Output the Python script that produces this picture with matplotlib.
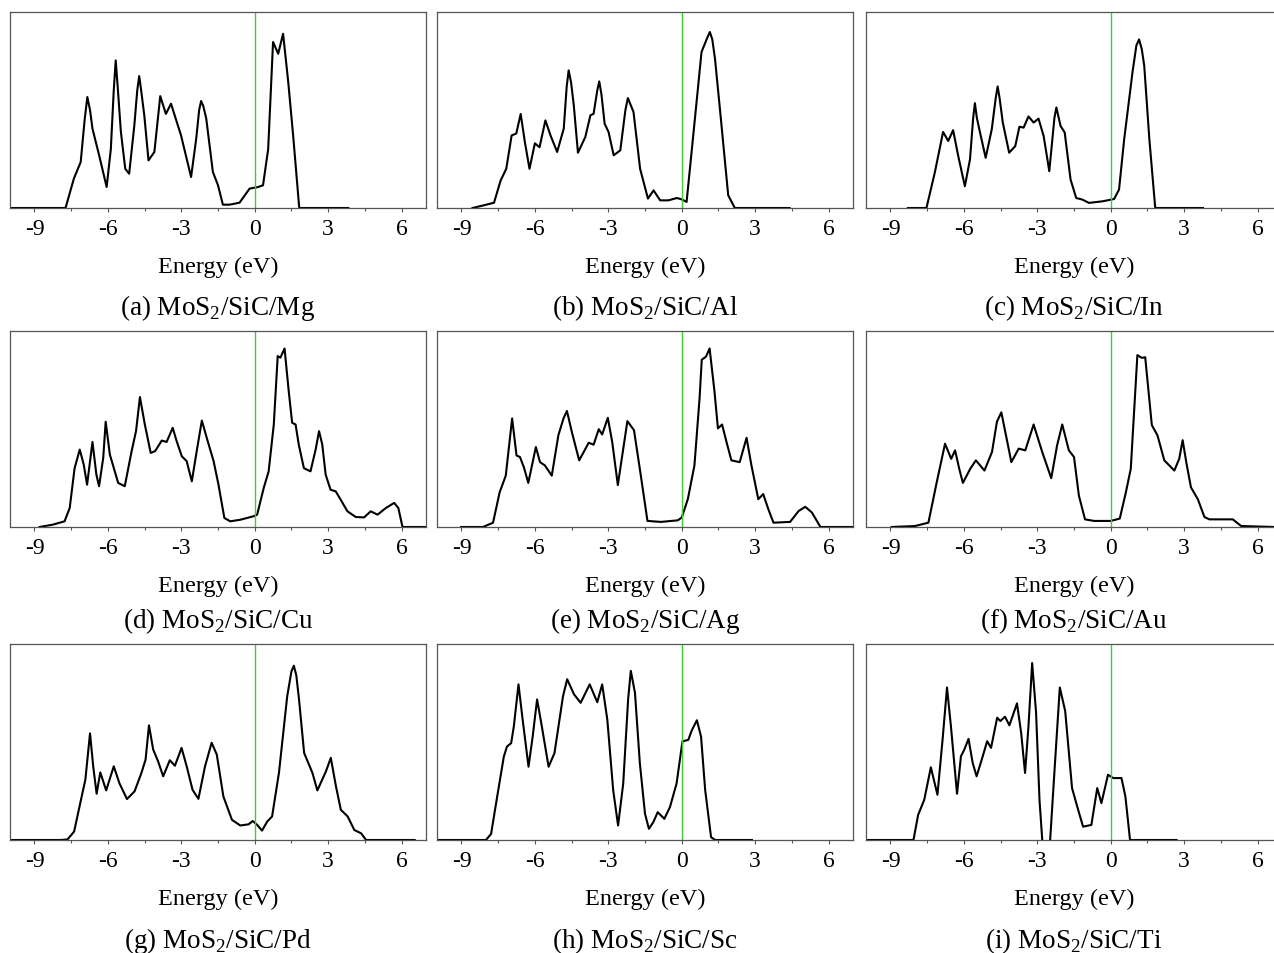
import matplotlib
matplotlib.use("Agg")
import matplotlib.pyplot as plt

plt.rcParams["font.family"] = ["Liberation Serif", "DejaVu Serif"]
plt.rcParams["mathtext.fontset"] = "custom"
plt.rcParams["mathtext.rm"] = "Liberation Serif"
plt.rcParams["axes.unicode_minus"] = False

# digitised total DOS (energy in eV, DOS in arbitrary units)
energy_mg = [-10.0, -7.73, -7.39, -7.11, -6.95, -6.84, -6.73, -6.63, -6.36, -6.05, -5.88, -5.76, -5.68, -5.60, -5.47,
             -5.29, -5.13, -4.92, -4.80, -4.72, -4.64, -4.51, -4.34, -4.10, -3.86, -3.63, -3.42, -3.01, -2.60, -2.39,
             -2.27, -2.19, -2.10, -1.98, -1.71, -1.50, -1.30, -1.03, -0.62, -0.21, 0.14, 0.34, 0.55, 0.75, 0.96,
             1.16, 1.37, 1.57, 1.82, 3.83]
dos_mg = [0.0, 0.0, 0.15, 0.235, 0.45, 0.566, 0.50, 0.405, 0.27, 0.107, 0.30, 0.60, 0.753, 0.62, 0.39,
          0.20, 0.175, 0.42, 0.60, 0.673, 0.60, 0.47, 0.243, 0.286, 0.571, 0.48, 0.532, 0.37, 0.158, 0.354,
          0.50, 0.546, 0.52, 0.456, 0.184, 0.116, 0.017, 0.017, 0.027, 0.099, 0.107, 0.116, 0.30, 0.847, 0.787,
          0.889, 0.643, 0.371, 0.0, 0.0]

energy_al = [-8.55, -8.08, -7.67, -7.40, -7.17, -6.95, -6.76, -6.58, -6.41, -6.22, -6.00, -5.81, -5.57, -5.36, -5.09,
             -4.82, -4.70, -4.62, -4.52, -4.41, -4.24, -3.94, -3.73, -3.60, -3.45, -3.37, -3.28, -3.15, -2.99, -2.78,
             -2.51, -2.30, -2.20, -1.97, -1.70, -1.38, -1.15, -0.88, -0.54, -0.20, 0.0, 0.20, 0.54, 0.81, 1.05,
             1.15, 1.25, 1.36, 1.60, 1.90, 2.17, 4.41]
dos_al = [0.0, 0.014, 0.027, 0.14, 0.20, 0.37, 0.38, 0.48, 0.337, 0.20, 0.33, 0.31, 0.447, 0.37, 0.286,
          0.405, 0.62, 0.702, 0.64, 0.524, 0.282, 0.362, 0.473, 0.481, 0.60, 0.646, 0.58, 0.43, 0.388, 0.269,
          0.294, 0.50, 0.561, 0.49, 0.20, 0.048, 0.09, 0.039, 0.039, 0.051, 0.044, 0.031, 0.456, 0.796, 0.87,
          0.898, 0.86, 0.762, 0.456, 0.065, 0.0, 0.0]

energy_in = [-8.29, -7.53, -7.19, -6.85, -6.64, -6.44, -6.23, -5.96, -5.75, -5.62, -5.55, -5.47, -5.34, -5.11, -4.86,
             -4.70, -4.62, -4.54, -4.41, -4.15, -3.90, -3.73, -3.56, -3.36, -3.15, -2.95, -2.74, -2.51, -2.30, -2.22,
             -2.05, -1.88, -1.64, -1.41, -1.16, -0.89, -0.34, 0.14, 0.34, 0.55, 0.89, 1.05, 1.16, 1.27, 1.37,
             1.58, 1.82, 3.77]
dos_in = [0.0, 0.0, 0.18, 0.388, 0.342, 0.397, 0.265, 0.111, 0.248, 0.46, 0.535, 0.46, 0.385, 0.256, 0.402,
          0.56, 0.62, 0.56, 0.436, 0.282, 0.316, 0.415, 0.41, 0.467, 0.436, 0.456, 0.367, 0.188, 0.46, 0.513,
          0.419, 0.385, 0.145, 0.051, 0.043, 0.026, 0.034, 0.046, 0.094, 0.35, 0.692, 0.83, 0.86, 0.81, 0.726,
          0.35, 0.0, 0.0]

energy_cu = [-8.79, -8.25, -7.77, -7.56, -7.36, -7.15, -6.99, -6.85, -6.63, -6.47, -6.36, -6.19, -6.09, -5.92, -5.58,
             -5.31, -5.03, -4.85, -4.69, -4.49, -4.25, -4.07, -3.80, -3.60, -3.35, -3.19, -2.98, -2.78, -2.57, -2.37,
             -2.16, -1.96, -1.68, -1.48, -1.24, -1.00, -0.59, -0.04, 0.10, 0.37, 0.57, 0.78, 0.94, 1.05, 1.22,
             1.39, 1.53, 1.67, 1.80, 2.01, 2.28, 2.49, 2.63, 2.76, 2.90, 3.10, 3.31, 3.51, 3.79, 4.13,
             4.47, 4.74, 5.02, 5.36, 5.70, 5.87, 6.04, 7.0]
dos_cu = [0.0, 0.012, 0.029, 0.097, 0.30, 0.395, 0.32, 0.216, 0.434, 0.267, 0.208, 0.353, 0.537, 0.37, 0.225,
          0.208, 0.387, 0.489, 0.663, 0.523, 0.378, 0.387, 0.441, 0.434, 0.506, 0.438, 0.361, 0.336, 0.233, 0.387,
          0.543, 0.455, 0.336, 0.216, 0.046, 0.029, 0.037, 0.055, 0.063, 0.20, 0.284, 0.523, 0.872, 0.864, 0.911,
          0.693, 0.532, 0.523, 0.421, 0.30, 0.284, 0.395, 0.489, 0.421, 0.267, 0.19, 0.182, 0.14, 0.08, 0.051,
          0.049, 0.08, 0.063, 0.097, 0.123, 0.097, 0.0, 0.0]

energy_ag = [-9.02, -8.12, -7.71, -7.44, -7.19, -6.93, -6.75, -6.61, -6.45, -6.27, -6.09, -5.96, -5.79, -5.59, -5.31,
             -5.04, -4.83, -4.69, -4.49, -4.19, -3.80, -3.60, -3.39, -3.25, -3.02, -2.84, -2.61, -2.43, -2.22, -1.95,
             -1.67, -1.40, -0.85, -0.16, 0.0, 0.25, 0.52, 0.73, 0.82, 0.93, 1.00, 1.14, 1.34, 1.48, 1.65,
             1.83, 2.03, 2.37, 2.65, 2.85, 3.13, 3.33, 3.54, 3.75, 4.43, 4.78, 5.05, 5.32, 5.67, 6.97]
dos_ag = [0.0, 0.0, 0.022, 0.177, 0.262, 0.554, 0.365, 0.357, 0.305, 0.225, 0.331, 0.408, 0.331, 0.314, 0.262,
          0.468, 0.554, 0.592, 0.485, 0.34, 0.43, 0.42, 0.499, 0.472, 0.557, 0.434, 0.214, 0.365, 0.54, 0.494,
          0.262, 0.031, 0.026, 0.034, 0.048, 0.142, 0.314, 0.657, 0.854, 0.863, 0.871, 0.911, 0.691, 0.503, 0.523,
          0.434, 0.34, 0.331, 0.455, 0.314, 0.142, 0.168, 0.091, 0.022, 0.026, 0.082, 0.103, 0.074, 0.0, 0.0]

energy_au = [-8.96, -8.0, -7.45, -7.11, -6.77, -6.52, -6.36, -6.19, -6.04, -5.74, -5.51, -5.16, -4.85, -4.65, -4.47,
             -4.28, -4.06, -3.76, -3.49, -3.15, -2.80, -2.43, -2.19, -1.98, -1.71, -1.50, -1.30, -1.05, -0.68, 0.0,
             0.37, 0.62, 0.82, 1.09, 1.27, 1.41, 1.68, 1.91, 2.19, 2.60, 2.80, 2.94, 3.10, 3.28, 3.56,
             3.83, 4.03, 4.44, 4.99, 5.33, 6.7]
dos_au = [0.0, 0.005, 0.022, 0.228, 0.425, 0.348, 0.391, 0.297, 0.225, 0.297, 0.34, 0.288, 0.383, 0.537, 0.585,
          0.468, 0.331, 0.40, 0.391, 0.523, 0.383, 0.249, 0.417, 0.523, 0.391, 0.357, 0.16, 0.039, 0.031, 0.031,
          0.043, 0.177, 0.297, 0.877, 0.863, 0.866, 0.52, 0.468, 0.34, 0.288, 0.348, 0.443, 0.322, 0.202, 0.142,
          0.051, 0.039, 0.039, 0.039, 0.005, 0.0]

energy_pd = [-10.08, -7.93, -7.65, -7.38, -7.10, -6.92, -6.73, -6.60, -6.46, -6.31, -6.07, -5.76, -5.53, -5.22, -4.91,
             -4.63, -4.46, -4.32, -4.15, -3.95, -3.74, -3.47, -3.26, -2.99, -2.78, -2.54, -2.30, -2.03, -1.76, -1.55,
             -1.28, -0.93, -0.59, -0.25, -0.08, 0.10, 0.30, 0.51, 0.71, 0.99, 1.33, 1.50, 1.60, 1.70, 1.81,
             2.02, 2.36, 2.56, 2.91, 3.11, 3.32, 3.52, 3.80, 4.07, 4.35, 4.55, 6.54]
dos_pd = [0.0, 0.0, 0.003, 0.043, 0.205, 0.308, 0.544, 0.376, 0.236, 0.345, 0.253, 0.376, 0.29, 0.209, 0.248,
          0.342, 0.41, 0.585, 0.462, 0.402, 0.325, 0.407, 0.379, 0.47, 0.376, 0.256, 0.21, 0.376, 0.496, 0.436,
          0.222, 0.103, 0.074, 0.08, 0.097, 0.077, 0.048, 0.094, 0.12, 0.342, 0.735, 0.86, 0.889, 0.84, 0.718,
          0.444, 0.342, 0.253, 0.35, 0.419, 0.274, 0.154, 0.12, 0.051, 0.034, 0.0, 0.0]

energy_sc = [-10.0, -8.0, -7.79, -7.52, -7.27, -7.14, -6.97, -6.86, -6.67, -6.50, -6.26, -6.09, -5.91, -5.74, -5.44,
             -5.20, -4.85, -4.68, -4.40, -4.13, -3.76, -3.45, -3.25, -3.04, -2.80, -2.60, -2.39, -2.19, -2.08, -1.91,
             -1.71, -1.50, -1.34, -1.16, -0.98, -0.71, -0.48, -0.21, 0.03, 0.27, 0.41, 0.62, 0.79, 0.96, 1.20,
             1.37, 2.87]
dos_sc = [0.0, 0.0, 0.031, 0.237, 0.425, 0.477, 0.494, 0.58, 0.794, 0.614, 0.374, 0.528, 0.717, 0.597, 0.374,
          0.443, 0.734, 0.82, 0.743, 0.70, 0.794, 0.703, 0.794, 0.614, 0.254, 0.074, 0.288, 0.717, 0.863, 0.751,
          0.391, 0.134, 0.057, 0.091, 0.142, 0.108, 0.168, 0.288, 0.503, 0.511, 0.559, 0.611, 0.528, 0.254, 0.014,
          0.0, 0.0]

energy_ti = [-10.0, -8.06, -7.87, -7.62, -7.35, -7.08, -6.87, -6.69, -6.53, -6.28, -6.12, -5.98, -5.81, -5.64, -5.48,
             -5.23, -5.05, -4.89, -4.64, -4.51, -4.32, -4.14, -3.83, -3.66, -3.50, -3.36, -3.21, -3.05, -2.91, -2.77,
             -2.50, -2.32, -2.08, -1.86, -1.58, -1.37, -1.13, -0.79, -0.55, -0.38, -0.11, 0.10, 0.44, 0.60, 0.79,
             2.69]
dos_ti = [0.0, 0.0, 0.128, 0.205, 0.371, 0.231, 0.513, 0.778, 0.581, 0.236, 0.427, 0.462, 0.516, 0.393, 0.325,
          0.427, 0.504, 0.47, 0.624, 0.607, 0.629, 0.585, 0.697, 0.547, 0.342, 0.581, 0.903, 0.65, 0.205, -0.05,
          -0.05, 0.308, 0.778, 0.658, 0.265, 0.171, 0.068, 0.077, 0.265, 0.188, 0.333, 0.316, 0.316, 0.222, 0.0,
          0.0]

panel_names = ["(a) MoS$_2$/SiC/Mg", "(b) MoS$_2$/SiC/Al", "(c) MoS$_2$/SiC/In",
               "(d) MoS$_2$/SiC/Cu", "(e) MoS$_2$/SiC/Ag", "(f) MoS$_2$/SiC/Au",
               "(g) MoS$_2$/SiC/Pd", "(h) MoS$_2$/SiC/Sc", "(i) MoS$_2$/SiC/Ti"]
series = [(energy_mg, dos_mg), (energy_al, dos_al), (energy_in, dos_in),
          (energy_cu, dos_cu), (energy_ag, dos_ag), (energy_au, dos_au),
          (energy_pd, dos_pd), (energy_sc, dos_sc), (energy_ti, dos_ti)]
x_ticks = [-9, -6, -3, 0, 3, 6]

W, H = 1274, 954
col_left = [10, 437, 866]
row_top = [13, 332, 645]
caption_gap = [99, 93, 100]
box_w, box_h = 416, 196

fig = plt.figure(figsize=(W / 100, H / 100), dpi=100)
for i, (name, (energy, dos)) in enumerate(zip(panel_names, series)):
    r, c = divmod(i, 3)
    left = col_left[c] / W
    bottom_px = row_top[r] + box_h
    ax = fig.add_axes([left, 1 - bottom_px / H, box_w / W, box_h / H])
    ax.plot(energy, dos, color="black", linewidth=1.5, solid_joinstyle="round")
    ax.axvline(0, color="#3ccf3c", linewidth=1.0)
    ax.set_xlim(-10, 7)
    ax.set_ylim(0, 1)
    ax.set_xticks(x_ticks)
    ax.set_xticks([-7.5, -4.5, -1.5, 1.5, 4.5], minor=True)
    ax.set_yticks([])
    ax.tick_params(axis="x", which="major", direction="out", length=3, width=0.8,
                   color="#555555", labelsize=17, pad=4)
    ax.tick_params(axis="x", which="minor", direction="out", length=2, width=0.8, color="#555555")
    for sp in ax.spines.values():
        sp.set_color("#555555")
        sp.set_linewidth(0.9)
    xc = (col_left[c] + box_w / 2) / W
    fig.text(xc, 1 - (bottom_px + 58) / H, "Energy (eV)", ha="center", va="center", fontsize=17.5)
    fig.text(xc, 1 - (bottom_px + caption_gap[r]) / H, name, ha="center", va="center", fontsize=19.5)

fig.savefig("out.png", dpi=100)
